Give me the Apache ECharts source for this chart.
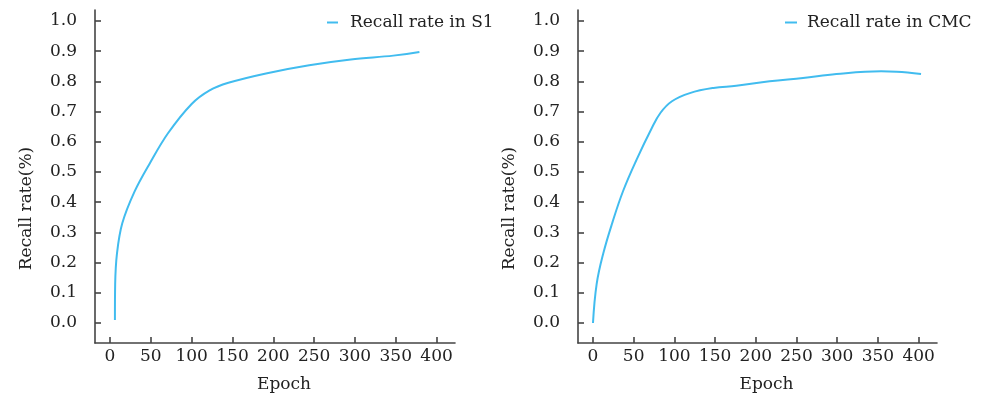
<!DOCTYPE html>
<html>
<head>
<meta charset="utf-8">
<script src="https://cdn.jsdelivr.net/npm/echarts@6/dist/echarts.min.js"></script>
<style>
html,body{margin:0;padding:0;background:#fff;}
#chart{width:992px;height:398px;}
</style>
</head>
<body>
<div id="chart"></div>
<script>
// ---- data ----
var epochsS1 = [6, 6.3, 8.5, 15, 30, 49, 71, 100, 122, 145, 191, 244, 295, 347, 379];
var recallS1 = [0.01, 0.128, 0.23, 0.33, 0.435, 0.53, 0.628, 0.725, 0.77, 0.795, 0.826, 0.853, 0.872, 0.885, 0.897];

var epochsCMC = [0, 4.5, 12.7, 24, 37, 53.6, 72, 83, 97, 119, 148, 176, 217, 258, 299, 354, 373, 403];
var recallCMC = [0, 0.129, 0.231, 0.334, 0.437, 0.541, 0.644, 0.696, 0.734, 0.761, 0.778, 0.785, 0.80, 0.811, 0.824, 0.833, 0.832, 0.824];

var xTicks = [0, 50, 100, 150, 200, 250, 300, 350, 400];
var yTicks = [0, 0.1, 0.2, 0.3, 0.4, 0.5, 0.6, 0.7, 0.8, 0.9, 1.0];

var seriesNames = ['Recall rate in S1', 'Recall rate in CMC'];
var xName = 'Epoch';
var yName = 'Recall rate(%)';

// ---- chart ----
function pairs(xs, ys) { return xs.map(function (x, i) { return [x, ys[i]]; }); }

var FONT = 'DejaVu Serif';
var TXT = '#222';
var AX = '#444';
var LINE = '#41bcef';

function makeX(idx) {
  return {
    gridIndex: idx, type: 'value', min: -18.4, max: 422.6,
    name: xName, nameLocation: 'middle', nameGap: 33,
    nameTextStyle: { fontFamily: FONT, fontSize: 17, color: TXT, padding: [0, 0, 0, 18] },
    axisLine: { show: true, onZero: false, lineStyle: { color: AX, width: 1.6 } },
    axisTick: { show: true, inside: true, length: 6, lineStyle: { color: AX, width: 1.6 }, customValues: xTicks },
    axisLabel: { fontFamily: FONT, fontSize: 17, color: TXT, margin: 5, customValues: xTicks },
    splitLine: { show: false }
  };
}
function makeY(idx) {
  return {
    gridIndex: idx, type: 'value', min: -0.066, max: 1.036,
    name: yName, nameLocation: 'middle', nameGap: 60,
    nameTextStyle: { fontFamily: FONT, fontSize: 17, color: TXT, padding: [0, 64, 0, 0] },
    axisLine: { show: true, onZero: false, lineStyle: { color: AX, width: 1.6 } },
    axisTick: { show: true, inside: true, length: 6, lineStyle: { color: AX, width: 1.6 }, customValues: yTicks },
    axisLabel: { fontFamily: FONT, fontSize: 17, color: TXT, margin: 18, customValues: yTicks,
      formatter: function (v) { return v.toFixed(1); } },
    splitLine: { show: false }
  };
}

var chart = echarts.init(document.getElementById('chart'), null, { renderer: 'canvas' });
chart.setOption({
  animation: false,
  backgroundColor: '#fff',
  grid: [
    { left: 95, top: 10, width: 360, height: 335 },
    { left: 578, top: 10, width: 359, height: 334 }
  ],
  legend: [
    { data: [seriesNames[0]], left: 322, top: 9, icon: 'rect', itemWidth: 11, itemHeight: 2,
      textStyle: { fontFamily: FONT, fontSize: 17, color: TXT, padding: [0, 0, 0, 7] } },
    { data: [seriesNames[1]], left: 780, top: 9, icon: 'rect', itemWidth: 12, itemHeight: 2,
      textStyle: { fontFamily: FONT, fontSize: 17, color: TXT, padding: [0, 0, 0, 5] } }
  ],
  xAxis: [makeX(0), makeX(1)],
  yAxis: [makeY(0), makeY(1)],
  series: [
    { name: seriesNames[0], type: 'line', xAxisIndex: 0, yAxisIndex: 0, smooth: 0.35, showSymbol: false,
      color: LINE, lineStyle: { color: LINE, width: 2 }, data: pairs(epochsS1, recallS1) },
    { name: seriesNames[1], type: 'line', xAxisIndex: 1, yAxisIndex: 1, smooth: 0.4, showSymbol: false,
      color: LINE, lineStyle: { color: LINE, width: 2 }, data: pairs(epochsCMC, recallCMC) }
  ]
});
</script>
</body>
</html>
